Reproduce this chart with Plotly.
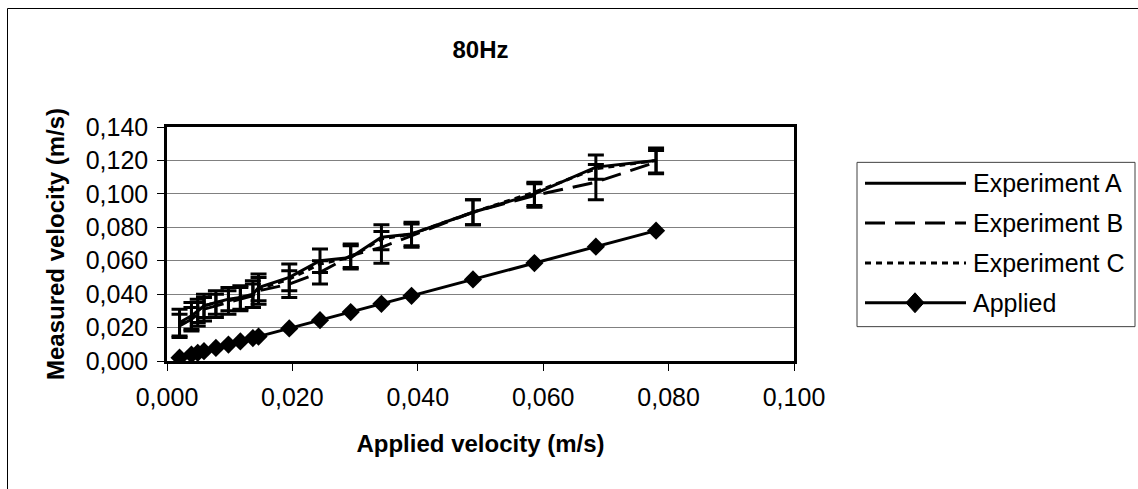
import plotly.graph_objects as go

# ---- data ----
applied_x = [0.0020, 0.0039, 0.0049, 0.0059, 0.0078, 0.0098, 0.0117, 0.0137, 0.0146,
             0.0195, 0.0244, 0.0293, 0.0342, 0.0390, 0.0488, 0.0586, 0.0684, 0.0780]
applied_y = [0.0020, 0.0039, 0.0049, 0.0059, 0.0078, 0.0098, 0.0117, 0.0137, 0.0146,
             0.0195, 0.0244, 0.0293, 0.0342, 0.0390, 0.0488, 0.0586, 0.0684, 0.0780]
exp_a = [0.023, 0.027, 0.030, 0.033, 0.035, 0.037, 0.038, 0.040, 0.044,
         0.050, 0.060, 0.062, 0.074, 0.076, 0.089, 0.100, 0.116, 0.120]
err_a = [0.008, 0.008, 0.007, 0.007, 0.007, 0.007, 0.007, 0.008, 0.008,
         0.008, 0.007, 0.007, 0.0075, 0.007, 0.0075, 0.007, 0.0072, 0.0075]
exp_b = [0.021, 0.025, 0.028, 0.031, 0.033, 0.035, 0.037, 0.039, 0.042,
         0.046, 0.053, 0.063, 0.068, 0.075, 0.089, 0.099, 0.107, 0.119]
err_b = [0.007, 0.007, 0.007, 0.007, 0.007, 0.007, 0.007, 0.007, 0.008,
         0.008, 0.007, 0.007, 0.0095, 0.007, 0.0075, 0.007, 0.0105, 0.007]
exp_c = [0.022, 0.026, 0.030, 0.033, 0.035, 0.036, 0.038, 0.039, 0.043,
         0.049, 0.058, 0.062, 0.073, 0.076, 0.089, 0.101, 0.115, 0.120]

x_ticks = [0.0, 0.02, 0.04, 0.06, 0.08, 0.10]
y_ticks = [0.0, 0.02, 0.04, 0.06, 0.08, 0.10, 0.12, 0.14]
legend_names = ["Experiment A", "Experiment B", "Experiment C", "Applied"]

# ---- layout geometry (page margin removed, figure fills the window) ----
W, H = 1138, 489
PL, PR, PT, PB = 167, 794, 126.5, 361.5
FONT = "Liberation Sans, Arial, sans-serif"


def px(xs):
    """pixel x -> paper x"""
    return (xs - PL) / (PR - PL)


def py(ys):
    """pixel y -> paper y"""
    return (PB - ys) / (PB - PT)


fig = go.Figure()

fig.add_trace(go.Scatter(x=applied_x, y=exp_a, mode="lines", name=legend_names[0],
                         line=dict(color="black", width=3),
                         error_y=dict(type="data", array=err_a, color="black", thickness=3, width=8)))
fig.add_trace(go.Scatter(x=applied_x, y=exp_b, mode="lines", name=legend_names[1],
                         line=dict(color="black", width=3, dash="20px,10px"),
                         error_y=dict(type="data", array=err_b, color="black", thickness=3, width=8)))
fig.add_trace(go.Scatter(x=applied_x, y=exp_c, mode="lines", name=legend_names[2],
                         line=dict(color="black", width=3, dash="6px,5px")))
fig.add_trace(go.Scatter(x=applied_x, y=applied_y, mode="lines+markers", name=legend_names[3],
                         line=dict(color="black", width=3),
                         marker=dict(symbol="diamond", size=14, color="black")))

shapes = []
annotations = []

# outer chart border: only the left and top edges are inside the picture
shapes.append(dict(type="line", xref="paper", yref="paper",
                   x0=px(7.5), x1=px(7.5), y0=py(7.5), y1=py(495),
                   line=dict(color="black", width=1), layer="below"))
shapes.append(dict(type="line", xref="paper", yref="paper",
                   x0=px(7.5), x1=px(1145), y0=py(7.5), y1=py(7.5),
                   line=dict(color="black", width=1), layer="below"))

# custom legend
shapes.append(dict(type="rect", xref="paper", yref="paper",
                   x0=px(857), x1=px(1135), y0=py(162), y1=py(327),
                   line=dict(color="#404040", width=1), fillcolor="white", layer="below"))
ys = [183, 223, 263, 303]
dashes = ["solid", "20px,10px", "6px,5px", "solid"]
for name, yy, d in zip(legend_names, ys, dashes):
    shapes.append(dict(type="line", xref="paper", yref="paper",
                       x0=px(865), x1=px(966), y0=py(yy), y1=py(yy),
                       line=dict(color="black", width=3, dash=d)))
    annotations.append(dict(text=name, xref="paper", yref="paper", x=px(971), y=py(yy),
                            xanchor="left", yanchor="middle", showarrow=False,
                            font=dict(family=FONT, size=25, color="black")))
cx, cy, hw, hh = 915, 303, 9, 10
path = (f"M {px(cx - hw)} {py(cy)} L {px(cx)} {py(cy - hh)} "
        f"L {px(cx + hw)} {py(cy)} L {px(cx)} {py(cy + hh)} Z")
shapes.append(dict(type="path", xref="paper", yref="paper", path=path,
                   fillcolor="black", line=dict(color="black", width=1)))

fig.update_layout(
    width=W, height=H,
    margin=dict(l=PL, r=W - PR, t=PT, b=H - PB, pad=0),
    paper_bgcolor="white", plot_bgcolor="white",
    separators=",.",
    showlegend=False,
    title=dict(text="<b>80Hz</b>", x=(PL + PR) / 2 / W, xanchor="center",
               y=1 - 50 / H, yanchor="middle",
               font=dict(family=FONT, size=24, color="black")),
    font=dict(family=FONT, size=25, color="black"),
    shapes=shapes, annotations=annotations,
)
fig.update_xaxes(range=[0, 0.1], tickvals=x_ticks, tickformat=".3f",
                 showgrid=False, zeroline=False,
                 showline=True, mirror=True, linecolor="black", linewidth=2.5,
                 ticks="outside", ticklen=7, tickcolor="black", tickwidth=1,
                 ticklabelstandoff=5,
                 tickfont=dict(family=FONT, size=25, color="black"),
                 title=dict(text="<b>Applied velocity (m/s)</b>", standoff=26,
                            font=dict(family=FONT, size=24, color="black")))
fig.update_yaxes(range=[0, 0.14], tickvals=y_ticks, tickformat=".3f",
                 showgrid=True, gridcolor="#808080", gridwidth=1, zeroline=False,
                 showline=True, mirror=True, linecolor="black", linewidth=2.5,
                 ticks="outside", ticklen=7, tickcolor="black", tickwidth=1,
                 ticklabelstandoff=4,
                 tickfont=dict(family=FONT, size=25, color="black"),
                 title=dict(text="<b>Measured velocity (m/s)</b>", standoff=15,
                            font=dict(family=FONT, size=24, color="black")))

fig.write_html(
    "out.html",
    config={"displayModeBar": False},
    post_script=("document.documentElement.style.margin='0';"
                 "document.body.style.margin='0';"
                 "document.body.style.overflow='hidden';"
                 "document.documentElement.style.overflow='hidden';"),
)
